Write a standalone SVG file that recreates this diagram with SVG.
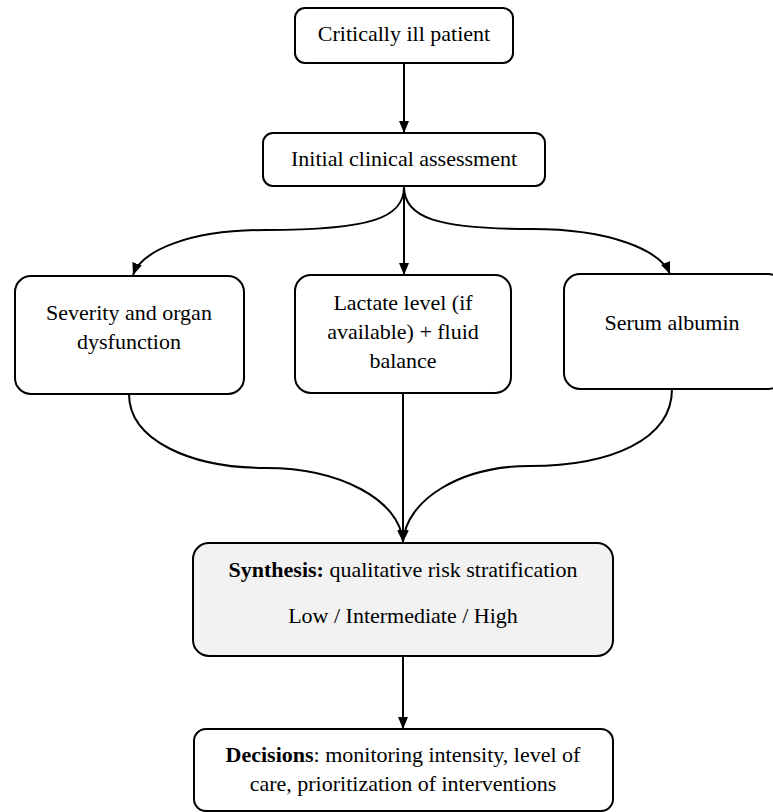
<svg xmlns="http://www.w3.org/2000/svg" width="773" height="812" viewBox="0 0 773 812">
<style>
.box{fill:#fff;stroke:#000;stroke-width:2}
.syn{fill:#f2f2f2;stroke:#000;stroke-width:2}
.c{fill:none;stroke:#000;stroke-width:2}
</style>
<defs>
<marker id="ah" viewBox="0 0 12 10" refX="12" refY="5" markerWidth="12" markerHeight="10" markerUnits="userSpaceOnUse" orient="auto">
<path d="M0,0 L12,5 L0,10 Z" fill="#000"/>
</marker>
</defs>
<rect width="773" height="812" fill="#fff"/>
<g id="connectors">
<path class="c" d="M404,63 L404,133" marker-end="url(#ah)"/>
<path class="c" d="M404,187 C404,218 370,230 266,230 C190,230 142,250 133,275" marker-end="url(#ah)"/>
<path class="c" d="M404,187 L404,275" marker-end="url(#ah)"/>
<path class="c" d="M404,187 C404,218 438,229 532,229 C610,229 660,250 670,274" marker-end="url(#ah)"/>
<path class="c" d="M129,394 C129,440 190,468 266,468 C340,468 400,500 403,542" marker-end="url(#ah)"/>
<path class="c" d="M403,393 L403,542" marker-end="url(#ah)"/>
<path class="c" d="M672,389 C672,440 610,466 530,466 C460,466 406,500 403,542" marker-end="url(#ah)"/>
<path class="c" d="M403,656 L403,729" marker-end="url(#ah)"/>
</g>
<g id="n1">
<rect class="box" x="295" y="8" width="218" height="55" rx="10"/>
<text x="404" y="41" font-family="'Liberation Serif', serif" font-size="22" text-anchor="middle">Critically ill patient</text>
</g>
<g id="n2">
<rect class="box" x="263" y="133" width="282" height="53" rx="10"/>
<text x="404" y="166" font-family="'Liberation Serif', serif" font-size="22" text-anchor="middle">Initial clinical assessment</text>
</g>
<g id="n3">
<rect class="box" x="15" y="276" width="229" height="118" rx="16"/>
<text x="129" y="320" font-family="'Liberation Serif', serif" font-size="22" text-anchor="middle">Severity and organ</text>
<text x="129" y="349" font-family="'Liberation Serif', serif" font-size="22" text-anchor="middle">dysfunction</text>
</g>
<g id="n4">
<rect class="box" x="295" y="275" width="216" height="118" rx="16"/>
<text x="403" y="310" font-family="'Liberation Serif', serif" font-size="22" text-anchor="middle">Lactate level (if</text>
<text x="403" y="339" font-family="'Liberation Serif', serif" font-size="22" text-anchor="middle">available) + fluid</text>
<text x="403" y="368" font-family="'Liberation Serif', serif" font-size="22" text-anchor="middle">balance</text>
</g>
<g id="n5">
<rect class="box" x="564" y="274" width="220" height="115" rx="16"/>
<text x="672" y="330" font-family="'Liberation Serif', serif" font-size="22" text-anchor="middle">Serum albumin</text>
</g>
<g id="n6">
<rect class="syn" x="193" y="543" width="420" height="113" rx="16"/>
<text x="403" y="577" font-family="'Liberation Serif', serif" font-size="22" text-anchor="middle"><tspan font-weight="bold">Synthesis:</tspan> qualitative risk stratification</text>
<text x="403" y="623" font-family="'Liberation Serif', serif" font-size="22" text-anchor="middle">Low / Intermediate / High</text>
</g>
<g id="n7">
<rect class="box" x="194" y="729" width="419" height="82" rx="12"/>
<text x="403" y="762" font-family="'Liberation Serif', serif" font-size="22" text-anchor="middle"><tspan font-weight="bold">Decisions</tspan>: monitoring intensity, level of</text>
<text x="403" y="791" font-family="'Liberation Serif', serif" font-size="22" text-anchor="middle">care, prioritization of interventions</text>
</g>
</svg>
